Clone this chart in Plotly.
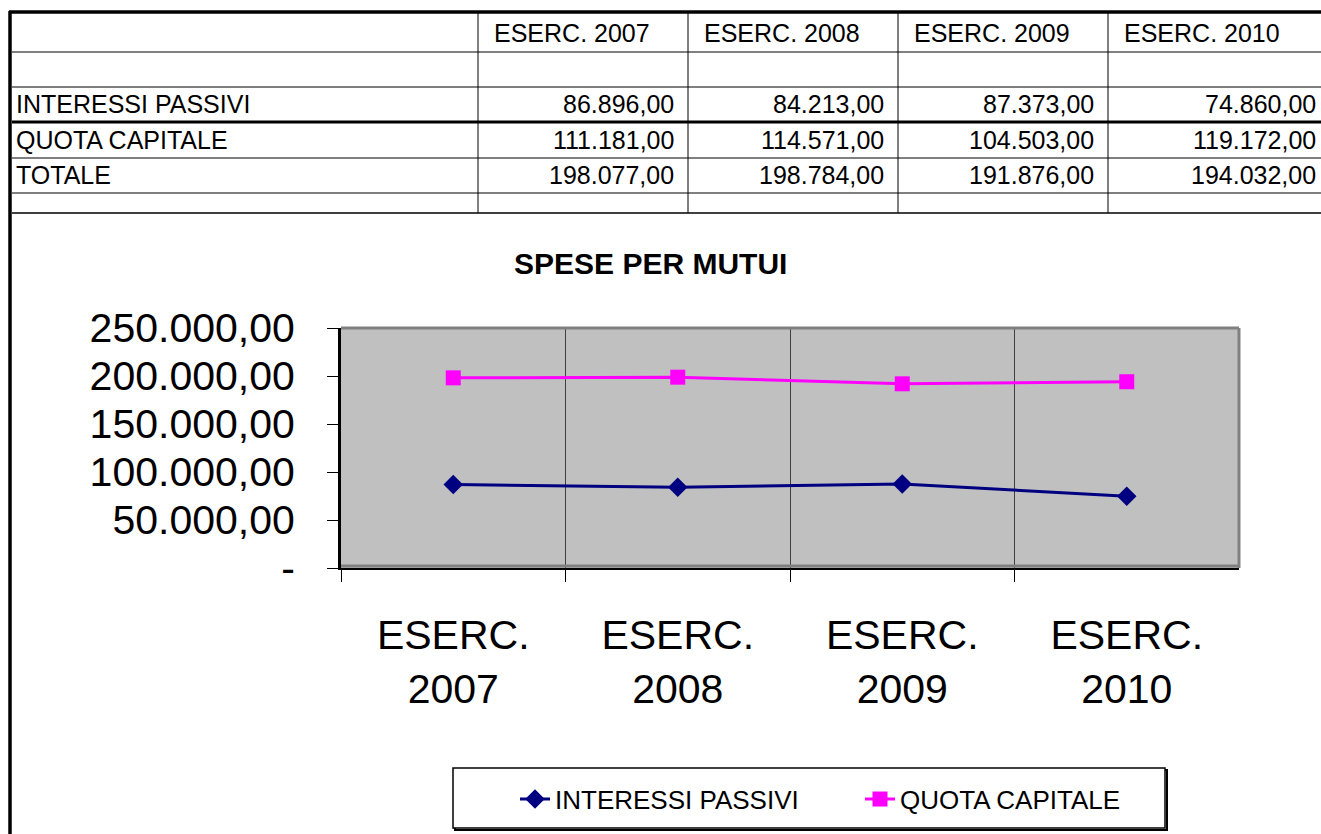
import plotly.graph_objects as go

W, H = 1321, 834

# data
years = ['ESERC. 2007', 'ESERC. 2008', 'ESERC. 2009', 'ESERC. 2010']
x_labels = ['ESERC.<br>2007', 'ESERC.<br>2008', 'ESERC.<br>2009', 'ESERC.<br>2010']
interessi_passivi = [86896.00, 84213.00, 87373.00, 74860.00]
quota_capitale = [111181.00, 114571.00, 104503.00, 119172.00]
totale = [198077.00, 198784.00, 191876.00, 194032.00]
y_ticks = [0, 50000, 100000, 150000, 200000, 250000]
y_ticktext = ['-', '50.000,00', '100.000,00', '150.000,00', '200.000,00', '250.000,00']

FONT = 'Liberation Sans, Arial, sans-serif'


def px(x):
    return x / W


def py(y):
    return 1 - y / H


def fmt_it(v):
    # italian number format 1.234,56
    s = f"{v:,.2f}"
    return s.replace(',', '#').replace('.', ',').replace('#', '.')


fig = go.Figure()

fig.add_trace(go.Scatter(
    x=x_labels,
    y=interessi_passivi,
    mode='lines+markers',
    name='INTERESSI PASSIVI',
    line=dict(color='#000080', width=3),
    marker=dict(symbol='diamond', size=15, color='#000080'),
    legend='legend',
))

# the chart is a stacked line: the pink series sits at the total
fig.add_trace(go.Scatter(
    x=x_labels,
    y=totale,
    mode='lines+markers',
    name='QUOTA CAPITALE',
    line=dict(color='#ff00ff', width=3),
    marker=dict(symbol='square', size=15, color='#ff00ff'),
    legend='legend2',
))

shapes = []
annotations = []

# table grid
def hline(y, x0, x1, width, color='black'):
    shapes.append(dict(type='line', xref='paper', yref='paper',
                       x0=px(x0), x1=px(x1), y0=py(y), y1=py(y),
                       line=dict(color=color, width=width)))


def vline(x, y0, y1, width, color='black'):
    shapes.append(dict(type='line', xref='paper', yref='paper',
                       x0=px(x), x1=px(x), y0=py(y0), y1=py(y1),
                       line=dict(color=color, width=width)))


hline(12, 9, W, 3.5)
hline(52, 12, W, 1)
hline(87, 12, W, 1)
hline(122, 12, W, 3)
hline(158, 12, W, 1)
hline(193, 12, W, 1)
hline(213, 12, W, 1.5)
vline(10, 11, H, 3.5)
col_edges = [478, 688, 898, 1108, 1330]
for cx in col_edges[:-1]:
    vline(cx, 12, 213, 1)

# header cells
for i, yr in enumerate(years):
    annotations.append(dict(x=px(col_edges[i] + 14), y=py(33), xref='paper', yref='paper',
                            text=yr, showarrow=False, xanchor='left', yanchor='middle',
                            font=dict(family=FONT, size=25, color='black')))

rows = [('INTERESSI PASSIVI', interessi_passivi, 104),
        ('QUOTA CAPITALE', quota_capitale, 140),
        ('TOTALE', totale, 175)]
for label, vals, ry in rows:
    annotations.append(dict(x=px(14), y=py(ry), xref='paper', yref='paper',
                            text=label, showarrow=False, xanchor='left', yanchor='middle',
                            font=dict(family=FONT, size=25, color='black')))
    for i, v in enumerate(vals):
        right = min(col_edges[i + 1] - 12, W - 3)
        annotations.append(dict(x=px(right), y=py(ry), xref='paper', yref='paper',
                                text=fmt_it(v), showarrow=False, xanchor='right', yanchor='middle',
                                font=dict(family=FONT, size=25, color='black')))

# chart title
annotations.append(dict(x=px(650), y=py(263), xref='paper', yref='paper',
                        text='<b>SPESE PER MUTUI</b>', showarrow=False,
                        xanchor='center', yanchor='middle',
                        font=dict(family=FONT, size=30, color='black')))

# plot area border (top, right, bottom in gray)
shapes.append(dict(type='line', xref='x domain', yref='y domain', x0=0, x1=1, y0=1, y1=1,
                   line=dict(color='#808080', width=3)))
shapes.append(dict(type='line', xref='x domain', yref='y domain', x0=1, x1=1, y0=0, y1=1,
                   line=dict(color='#808080', width=3)))
shapes.append(dict(type='line', xref='x domain', yref='y domain', x0=0, x1=1, y0=0.008, y1=0.008,
                   line=dict(color='#808080', width=3)))

# legend box with shadow
shapes.append(dict(type='rect', xref='paper', yref='paper',
                   x0=px(455), x1=px(1167), y0=py(830), y1=py(770),
                   line=dict(color='black', width=2)))
shapes.append(dict(type='rect', xref='paper', yref='paper',
                   x0=px(453), x1=px(1165), y0=py(828), y1=py(768),
                   fillcolor='white', line=dict(color='black', width=1.5)))

legend_style = dict(
    orientation='h',
    xanchor='left', yanchor='middle',
    bgcolor='rgba(0,0,0,0)',
    borderwidth=0,
    font=dict(family=FONT, size=26, color='black'),
    itemsizing='trace',
)

fig.update_layout(
    width=W,
    height=H,
    margin=dict(l=0, r=0, t=0, b=0, autoexpand=False),
    paper_bgcolor='white',
    plot_bgcolor='#c0c0c0',
    font=dict(family=FONT, color='black'),
    shapes=shapes,
    annotations=annotations,
    showlegend=True,
    legend=dict(x=px(515), y=py(799), **legend_style),
    legend2=dict(x=px(860), y=py(799), **legend_style),
    xaxis=dict(
        domain=[px(341), px(1239)],
        type='category',
        tickson='boundaries',
        showgrid=True,
        gridcolor='#404040',
        gridwidth=1,
        showline=True,
        linecolor='black',
        linewidth=2,
        ticks='outside',
        ticklen=12,
        tickcolor='black',
        tickwidth=1,
        tickfont=dict(family=FONT, size=41, color='black'),
        ticklabelstandoff=30,
        range=[-0.5, 3.5],
        automargin=False,
        fixedrange=True,
    ),
    yaxis=dict(
        domain=[py(568), py(328)],
        range=[0, 250000],
        tickvals=y_ticks,
        ticktext=y_ticktext,
        showgrid=False,
        zeroline=False,
        showline=True,
        linecolor='black',
        linewidth=3,
        ticks='outside',
        ticklen=11,
        tickcolor='black',
        tickwidth=1,
        tickfont=dict(family=FONT, size=41, color='black'),
        ticklabelstandoff=24,
        automargin=False,
        fixedrange=True,
    ),
)

fig.write_html("out.html", config={'displayModeBar': False},
               post_script="document.body.style.margin='0px';")
